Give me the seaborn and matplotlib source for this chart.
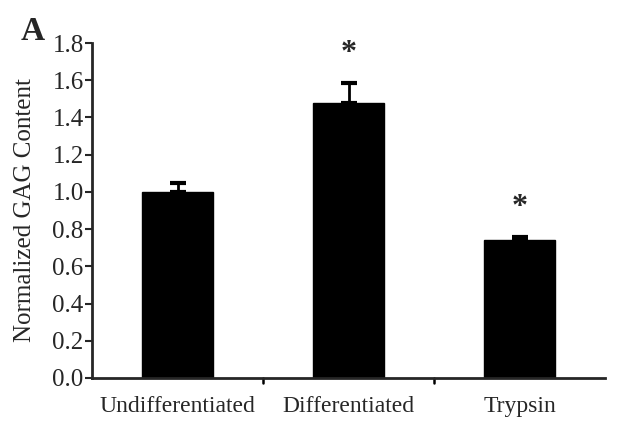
import matplotlib
matplotlib.use("Agg")
import matplotlib.pyplot as plt
import seaborn as sns
import pandas as pd
import numpy as np

categories = ["Undifferentiated", "Differentiated", "Trypsin"]
values = [1.0, 1.48, 0.74]
errors = [0.05, 0.105, 0.02]
significant = [False, True, True]
yticks = [0.0, 0.2, 0.4, 0.6, 0.8, 1.0, 1.2, 1.4, 1.6, 1.8]

sns.set_style("ticks")
plt.rcParams["font.family"] = ["Liberation Serif", "DejaVu Serif"]

df = pd.DataFrame({"group": categories, "value": values})

fig = plt.figure(figsize=(6.41, 4.30), dpi=100)
ax = fig.add_axes([0.1435, 0.121, 0.8005, 0.779])

sns.barplot(data=df, x="group", y="value", color="black", width=0.415,
            errorbar=None, ax=ax, saturation=1, edgecolor="black")

x = np.arange(len(categories))
ax.errorbar(x, values, yerr=[np.zeros(len(errors)), errors], fmt="none",
            ecolor="black", elinewidth=2, capsize=5.5, capthick=3)

for xi, v, e, s in zip(x, values, errors, significant):
    if s:
        ax.text(xi, v + e + 0.08, "*", ha="center", va="bottom",
                fontsize=23, fontweight="bold")

ax.set_xlim(-0.5, 2.5)
ax.set_ylim(0, 1.8)
ax.set_yticks(yticks)
ax.set_yticklabels([f"{t:.1f}" for t in yticks], fontsize=18)
ax.set_xticks(x)
ax.set_xticklabels(categories, fontsize=17)
ax.tick_params(axis="x", length=0, pad=13)
ax.tick_params(axis="y", length=5, width=1.5, pad=1)
for b in [0.5, 1.5]:
    ax.plot([b, b], [0, -0.025], color="black", lw=1.8, clip_on=False,
            transform=ax.transData)
ax.set_xlabel("")
ax.set_ylabel("Normalized GAG Content", fontsize=18, labelpad=12)
sns.despine(ax=ax)
ax.spines["left"].set_linewidth(2)
ax.spines["bottom"].set_linewidth(2)

fig.text(0.032, 0.962, "A", fontsize=24, fontweight="bold", va="top", ha="left")

fig.savefig("out.png", dpi=100)
